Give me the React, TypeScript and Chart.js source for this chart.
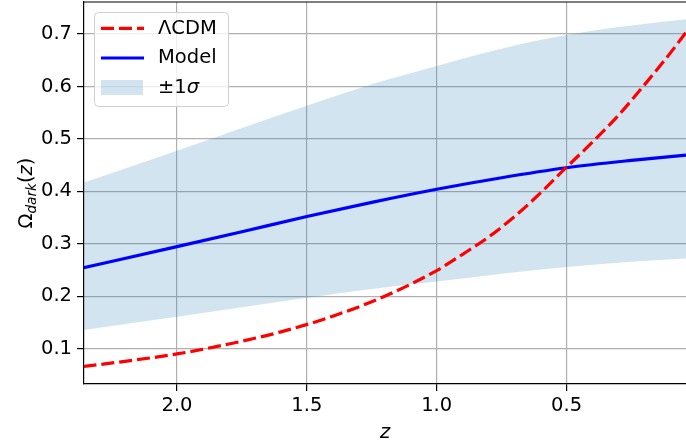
import React, { useEffect, useRef } from "react";
import { Chart, registerables } from "chart.js";

Chart.register(...registerables);

// ΛCDM curve
const lcdmZ = [2.36, 2.2, 2.0, 1.8, 1.6, 1.4, 1.2, 1.0, 0.9, 0.8, 0.7, 0.6, 0.5, 0.4, 0.3, 0.2, 0.1, 0.04];
const lcdmOmega = [0.066, 0.076, 0.09, 0.109, 0.132, 0.162, 0.2, 0.249, 0.28, 0.313, 0.352, 0.397, 0.446, 0.494, 0.545, 0.603, 0.664, 0.703];

// Model curve and ±1σ band
const modelZ = [2.36, 2.0, 1.75, 1.5, 1.25, 1.0, 0.75, 0.5, 0.25, 0.04];
const modelOmega = [0.2545, 0.2945, 0.323, 0.352, 0.379, 0.404, 0.426, 0.445, 0.459, 0.469];
const sigmaUpper = [0.4165, 0.4775, 0.521, 0.563, 0.604, 0.639, 0.672, 0.698, 0.716, 0.728];
const sigmaLower = [0.1357, 0.161, 0.179, 0.197, 0.214, 0.228, 0.243, 0.256, 0.266, 0.272];

const xTicks = [2.0, 1.5, 1.0, 0.5];
const yTicks = [0.1, 0.2, 0.3, 0.4, 0.5, 0.6, 0.7];

const legendLabels = ["\u039BCDM", "Model", "\u00B11", "\u03C3"];

const FONT = "'DejaVu Sans', sans-serif";
const FS = 19.5;
const RED = "#ff0000";
const BLUE = "#0000ff";
const BAND = "rgba(31,119,180,0.2)";

const pts = (xs: number[], ys: number[]) => xs.map((x, i) => ({ x, y: ys[i] }));

const decorPlugin = {
  id: "decor",
  afterDraw(chart: any) {
    const { ctx, chartArea } = chart;
    const { left, right, top, bottom } = chartArea;
    ctx.save();
    // top spine
    ctx.strokeStyle = "#000";
    ctx.lineWidth = 1.2;
    ctx.beginPath();
    ctx.moveTo(left, top);
    ctx.lineTo(right, top);
    ctx.stroke();

    // x title
    ctx.fillStyle = "#000";
    ctx.font = `italic ${FS}px ${FONT}`;
    ctx.textAlign = "center";
    ctx.textBaseline = "alphabetic";
    ctx.fillText("z", (left + right) / 2, 438);

    // y title Ω_dark(z)
    const cy = (top + bottom) / 2;
    ctx.translate(31.5, cy);
    ctx.rotate(-Math.PI / 2);
    ctx.textAlign = "left";
    const reg = `${FS}px ${FONT}`;
    const ita = `italic ${FS}px ${FONT}`;
    const sub = `italic ${FS * 0.7}px ${FONT}`;
    const parts = [
      { t: "\u03A9", f: reg, dy: 0 },
      { t: "dark", f: sub, dy: 4 },
      { t: "(", f: reg, dy: 0 },
      { t: "z", f: ita, dy: 0 },
      { t: ")", f: reg, dy: 0 },
    ];
    let total = 0;
    const widths = parts.map((p) => {
      ctx.font = p.f;
      const w = ctx.measureText(p.t).width;
      total += w;
      return w;
    });
    let x = -total / 2;
    parts.forEach((p, i) => {
      ctx.font = p.f;
      ctx.fillText(p.t, x, p.dy);
      x += widths[i];
    });
    ctx.restore();
  },
  afterDatasetsDraw(chart: any) {
    const { ctx } = chart;
    ctx.save();
    // legend box
    const bx = 94.5, by = 12.5, bw = 134, bh = 94, r = 4;
    ctx.beginPath();
    ctx.moveTo(bx + r, by);
    ctx.lineTo(bx + bw - r, by);
    ctx.quadraticCurveTo(bx + bw, by, bx + bw, by + r);
    ctx.lineTo(bx + bw, by + bh - r);
    ctx.quadraticCurveTo(bx + bw, by + bh, bx + bw - r, by + bh);
    ctx.lineTo(bx + r, by + bh);
    ctx.quadraticCurveTo(bx, by + bh, bx, by + bh - r);
    ctx.lineTo(bx, by + r);
    ctx.quadraticCurveTo(bx, by, bx + r, by);
    ctx.closePath();
    ctx.fillStyle = "rgba(255,255,255,0.8)";
    ctx.fill();
    ctx.strokeStyle = "#d0d0d0";
    ctx.lineWidth = 1;
    ctx.stroke();

    const rows = [28.3, 58, 87.5];
    // red dashed
    ctx.strokeStyle = RED;
    ctx.lineWidth = 3.2;
    ctx.setLineDash([13, 5]);
    ctx.beginPath();
    ctx.moveTo(101, rows[0]);
    ctx.lineTo(144, rows[0]);
    ctx.stroke();
    ctx.setLineDash([]);
    // blue
    ctx.strokeStyle = BLUE;
    ctx.beginPath();
    ctx.moveTo(101, rows[1]);
    ctx.lineTo(144, rows[1]);
    ctx.stroke();
    // patch
    ctx.fillStyle = BAND;
    ctx.fillRect(101, 80, 42, 15);

    ctx.fillStyle = "#000";
    ctx.textAlign = "left";
    ctx.textBaseline = "middle";
    ctx.font = `${FS}px ${FONT}`;
    ctx.fillText(legendLabels[0], 158, rows[0] + 1);
    ctx.fillText(legendLabels[1], 158, rows[1]);
    ctx.fillText(legendLabels[2], 158, rows[2]);
    const w = ctx.measureText(legendLabels[2]).width;
    ctx.font = `italic ${FS}px ${FONT}`;
    ctx.fillText(legendLabels[3], 158 + w, rows[2]);
    ctx.restore();
  },
};

export default function App() {
  const ref = useRef<HTMLCanvasElement>(null);

  useEffect(() => {
    const chart = new Chart(ref.current as HTMLCanvasElement, {
      type: "line",
      data: {
        datasets: [
          {
            label: "\u039BCDM",
            data: pts(lcdmZ, lcdmOmega),
            borderColor: RED,
            borderWidth: 3.2,
            borderDash: [13, 5],
            pointRadius: 0,
            fill: false,
            cubicInterpolationMode: "monotone",
          },
          {
            label: "Model",
            data: pts(modelZ, modelOmega),
            borderColor: BLUE,
            borderWidth: 3.2,
            pointRadius: 0,
            fill: false,
            cubicInterpolationMode: "monotone",
          },
          {
            label: "upper",
            data: pts(modelZ, sigmaUpper),
            borderWidth: 0,
            borderColor: "rgba(0,0,0,0)",
            backgroundColor: BAND,
            pointRadius: 0,
            fill: "+1",
            cubicInterpolationMode: "monotone",
          },
          {
            label: "lower",
            data: pts(modelZ, sigmaLower),
            borderWidth: 0,
            borderColor: "rgba(0,0,0,0)",
            pointRadius: 0,
            fill: false,
            cubicInterpolationMode: "monotone",
          },
        ],
      },
      options: {
        responsive: false,
        animation: false,
        devicePixelRatio: 1,
        layout: { padding: { top: 2, right: 0, left: 0, bottom: 0 } },
        plugins: { legend: { display: false }, tooltip: { enabled: false } },
        scales: {
          x: {
            type: "linear",
            reverse: true,
            min: 0.04,
            max: 2.358,
            afterBuildTicks: (s: any) => {
              s.ticks = xTicks.map((v) => ({ value: v }));
            },
            afterFit: (s: any) => {
              s.height = 60;
              s.paddingLeft = 0;
              s.paddingRight = 0;
            },
            grid: {
              color: "#b0b0b0",
              lineWidth: 1.2,
              drawTicks: true,
              tickLength: 7,
              tickColor: "#000",
              tickWidth: 1.2,
            },
            border: { display: true, color: "#000", width: 1.2 },
            ticks: {
              color: "#000",
              font: { family: FONT, size: FS },
              padding: 3,
              maxRotation: 0,
              autoSkip: false,
              callback: (v: any) => Number(v).toFixed(1),
            },
          },
          y: {
            type: "linear",
            min: 0.0327,
            max: 0.761,
            afterBuildTicks: (s: any) => {
              s.ticks = yTicks.map((v) => ({ value: v }));
            },
            afterFit: (s: any) => {
              s.width = 84;
              s.paddingTop = 0;
              s.paddingBottom = 0;
            },
            grid: {
              color: "#b0b0b0",
              lineWidth: 1.2,
              drawTicks: true,
              tickLength: 7,
              tickColor: "#000",
              tickWidth: 1.2,
            },
            border: { display: true, color: "#000", width: 1.2 },
            ticks: {
              color: "#000",
              font: { family: FONT, size: FS },
              padding: 5,
              autoSkip: false,
              callback: (v: any) => Number(v).toFixed(1),
            },
          },
        },
      },
      plugins: [decorPlugin],
    } as any);
    return () => chart.destroy();
  }, []);

  return (
    <div style={{ position: "fixed", left: 0, top: 0, width: 686, height: 444, background: "#fff" }}>
      <canvas ref={ref} width={686} height={444} style={{ display: "block", width: 686, height: 444 }} />
    </div>
  );
}
